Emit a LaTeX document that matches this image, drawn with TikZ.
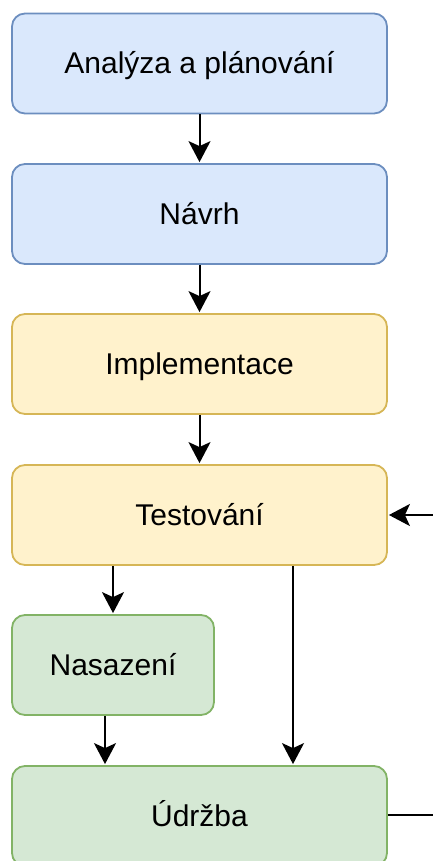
\documentclass[tikz,border=0pt]{standalone}
\usepackage{fontspec}
\setmainfont{Liberation Sans}
\usetikzlibrary{arrows.meta,calc}
\definecolor{bluefill}{HTML}{DAE8FC}
\definecolor{bluedraw}{HTML}{6C8EBF}
\definecolor{yelfill}{HTML}{FFF2CC}
\definecolor{yeldraw}{HTML}{D6B656}
\definecolor{grnfill}{HTML}{D5E8D4}
\definecolor{grndraw}{HTML}{82B366}
\tikzset{
  box/.style={draw, line width=1.8pt, rounded corners=13pt, minimum height=100pt,
    minimum width=375pt, inner sep=0pt, text height=21pt, text depth=1pt,
    font=\fontsize{30}{36}\selectfont},
  bluebox/.style={box, fill=bluefill, draw=bluedraw},
  yelbox/.style={box, fill=yelfill, draw=yeldraw},
  grnbox/.style={box, fill=grnfill, draw=grndraw},
  conn/.style={line width=2pt, -{Stealth[length=21pt, width=22pt, inset=5pt]}, shorten >=1pt},
  plainconn/.style={line width=2pt}
}
\begin{document}
\begin{tikzpicture}[x=1pt,y=-1pt]
\useasboundingbox (0,0) rectangle (433,861);
\clip (0,0) rectangle (433,861);
\node[bluebox] (ana) at (199.5,63.5) {Analýza a plánování};
\node[bluebox] (nav) at (199.5,214) {Návrh};
\node[yelbox] (imp) at (199.5,364) {Implementace};
\node[yelbox] (tes) at (199.5,515) {Testování};
\node[grnbox, minimum width=202pt] (nas) at (113,665) {Nasazení};
\node[grnbox] (udr) at (199.5,816) {Údržba};
\coordinate (extin) at (445,515);
\coordinate (extout) at (445,815);
\draw[conn] (ana) -- (nav);
\draw[conn] (nav) -- (imp);
\draw[conn] (imp) -- (tes);
\draw[conn] (tes.south -| nas.north) -- (nas.north);
\draw[conn] ([xshift=-8pt]nas.south) -- ([xshift=-8pt]nas.south |- udr.north);
\draw[conn] ([xshift=93.5pt]tes.south) -- ([xshift=93.5pt]udr.north);
\draw[conn] (extin) -- (tes.east);
\draw[plainconn] (udr.east |- extout) -- (extout);
\end{tikzpicture}
\end{document}
